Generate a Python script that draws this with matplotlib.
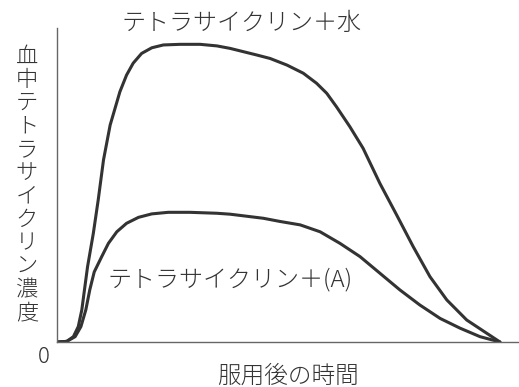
import matplotlib.pyplot as plt

plt.rcParams['font.family'] = ['Noto Sans CJK JP', 'DejaVu Sans']

# 時間 (任意単位) と血中濃度 (任意単位), 図から読み取り
t_water = [0, 0.22, 0.37, 0.48, 0.56, 0.62, 0.69, 0.82, 0.93, 1.05, 1.20,
           1.31, 1.42, 1.57, 1.72, 1.91, 2.14, 2.40, 2.78, 3.23, 3.61, 3.91,
           4.51, 4.81, 5.19, 5.56, 5.86, 6.09, 6.31, 6.61, 6.91, 7.29, 7.67,
           8.04, 8.42, 8.80, 9.25, 9.70, 10]
c_water = [0, 0.2, 1.7, 4.9, 10.2, 16.6, 24.0, 34.6, 45.2, 58.0, 69.1,
           74.4, 79.7, 85.0, 88.8, 91.9, 93.7, 94.6, 94.8, 94.8, 94.3, 93.5,
           91.4, 90.3, 88.2, 85.6, 82.4, 79.2, 74.9, 68.6, 61.7, 50.5, 40.4,
           30.4, 20.8, 13.4, 7.0, 2.8, 0]

t_a = [0, 0.22, 0.41, 0.54, 0.65, 0.74, 0.84, 1.01, 1.16, 1.35, 1.57, 1.84,
       2.14, 2.51, 3.00, 3.61, 3.91, 4.66, 5.03, 5.49, 5.94, 6.39, 6.84,
       7.29, 7.74, 8.19, 8.65, 9.10, 9.55, 10]
c_a = [0, 0.2, 1.7, 4.9, 10.2, 16.6, 22.3, 27.2, 31.4, 35.1, 37.8, 39.7,
       40.8, 41.3, 41.3, 41.0, 40.7, 39.4, 38.4, 37.3, 35.1, 31.4, 27.2,
       21.9, 16.6, 11.8, 7.5, 4.4, 1.7, 0]

label_water = "テトラサイクリン＋水"
label_a = "テトラサイクリン＋(A)"
ylabel = "血中テトラサイクリン濃度"
xlabel = "服用後の時間"

fig = plt.figure(figsize=(5.19, 3.87), dpi=100)
ax = fig.add_axes([57 / 519, 45 / 387, 462 / 519, 314 / 387])

ax.plot(t_water, c_water, color='#333333', lw=2.2,
        solid_capstyle='round', solid_joinstyle='round')
ax.plot(t_a, c_a, color='#333333', lw=2.2,
        solid_capstyle='round', solid_joinstyle='round')

ax.set_xlim(0, 10.43)
ax.set_ylim(0, 100)
ax.set_xticks([])
ax.set_yticks([])
for s in ['top', 'right']:
    ax.spines[s].set_visible(False)
for s in ['left', 'bottom']:
    ax.spines[s].set_color('#666666')
    ax.spines[s].set_linewidth(1.0)

tc = '#333333'
fig.text(122 / 519, 1 - 23 / 387, label_water, fontsize=17.3, color=tc,
         ha='left', va='center', fontweight='light')
fig.text(108 / 519, 1 - 280 / 387, label_a, fontsize=17.3, color=tc,
         ha='left', va='center', fontweight='light')
fig.text(27 / 519, 1 - 185 / 387, "\n".join(ylabel), fontsize=16, color=tc,
         ha='center', va='center', linespacing=1.08, fontweight='light')
fig.text(44 / 519, 1 - 357 / 387, "0", fontsize=16, color=tc,
         ha='center', va='center', fontweight='light')
fig.text(288 / 519, 1 - 376 / 387, xlabel, fontsize=17, color=tc,
         ha='center', va='center', fontweight='light')

plt.savefig("out.png", dpi=100)
